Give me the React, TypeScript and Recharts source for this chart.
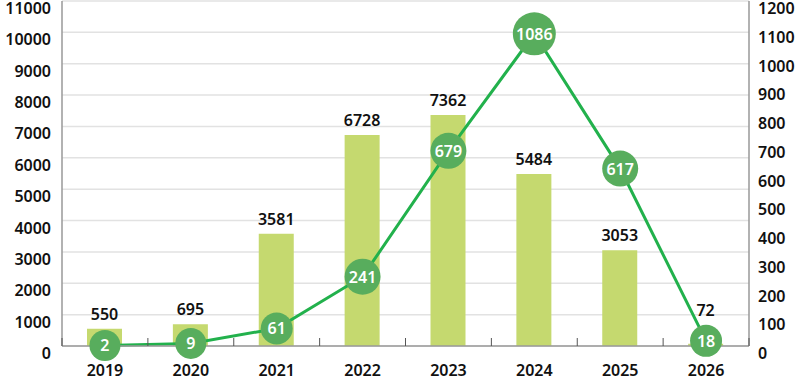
import React from "react";
import { ComposedChart, Bar, Line, XAxis, YAxis, CartesianGrid, LabelList } from "recharts";

const years = ["2019", "2020", "2021", "2022", "2023", "2024", "2025", "2026"];
const barValues = [550, 695, 3581, 6728, 7362, 5484, 3053, 72];
const lineValues = [2, 9, 61, 241, 679, 1086, 617, 18];
const leftTicks = [0, 1000, 2000, 3000, 4000, 5000, 6000, 7000, 8000, 9000, 10000, 11000];
const rightTicks = [0, 100, 200, 300, 400, 500, 600, 700, 800, 900, 1000, 1100, 1200];
const RIGHT_MAX = 1200;

const data = years.map((y, i) => ({ year: y, bar: barValues[i], line: lineValues[i] }));

const W = 800;
const H = 383;
const TOP = 1;
const X_H = 37;
const PLOT_H = H - TOP - X_H;
const LEFT_W = 62;
const RIGHT_W = 51;
const BW = (W - LEFT_W - RIGHT_W) / years.length;
const FONT = "'Noto Sans', sans-serif";

const radiusFor = (label: string) =>
  label.length === 1 ? 15.5 : label.length === 2 ? 16 : label.length === 3 ? 18 : 21.5;

const LeftTick = (props: any) => {
  const { x, y, payload } = props;
  return (
    <text x={x - 11} y={y + 7} textAnchor="end" dominantBaseline="central" fontFamily={FONT} fontSize={16} fontWeight={600} fill="#111">
      {payload.value}
    </text>
  );
};

const RightTick = (props: any) => {
  const { x, y, payload } = props;
  return (
    <text x={x + 9} y={y + 7} textAnchor="start" dominantBaseline="central" fontFamily={FONT} fontSize={16} fontWeight={600} fill="#111">
      {payload.value}
    </text>
  );
};

const XTick = (props: any) => {
  const { x, y, payload, index } = props;
  const last = index === years.length - 1;
  return (
    <g>
      <line x1={x - BW / 2} x2={x - BW / 2} y1={y - 8} y2={y} stroke="#555" strokeWidth={1} />
      {last && <line x1={x + BW / 2} x2={x + BW / 2} y1={y - 8} y2={y} stroke="#555" strokeWidth={1} />}
      <text x={x} y={y + 24} textAnchor="middle" dominantBaseline="central" fontFamily={FONT} fontSize={16} fontWeight={600} fill="#111">
        {payload.value}
      </text>
    </g>
  );
};

const BarLabel = (props: any) => {
  const { x, y, width, height, value, index } = props;
  const bottom = y + height;
  const lv = lineValues[index];
  const cy = bottom - (lv / RIGHT_MAX) * PLOT_H;
  const r = radiusFor(String(lv));
  let anchor = y;
  if (cy - r < y && y < cy + r) anchor = cy - r;
  return (
    <text x={x + width / 2} y={anchor - 9} textAnchor="middle" fontFamily={FONT} fontSize={16} fontWeight={600} fill="#111">
      {value}
    </text>
  );
};

const Dot = (props: any) => {
  const { cx, cy, payload } = props;
  const label = String(payload.line);
  const r = radiusFor(label);
  return (
    <g>
      <circle cx={cx} cy={cy} r={r} fill="#58ad5d" />
      <text x={cx} y={cy} textAnchor="middle" dominantBaseline="central" fontFamily={FONT} fontSize={16} fontWeight={600} fill="#fff">
        {label}
      </text>
    </g>
  );
};

export default function App() {
  return (
    <div style={{ position: "absolute", left: 0, top: 0, width: W, height: H, background: "#fff" }}>
      <ComposedChart width={W} height={H} data={data} margin={{ top: TOP, right: 0, bottom: 0, left: 0 }}>
        <CartesianGrid yAxisId="left" vertical={false} stroke="#e2e2e2" strokeWidth={1.5} />
        <XAxis
          dataKey="year"
          height={X_H}
          tickSize={0}
          tickMargin={0}
          tickLine={false}
          axisLine={{ stroke: "#999", strokeWidth: 1.5 }}
          tick={<XTick />}
          interval={0}
        />
        <YAxis
          yAxisId="left"
          orientation="left"
          width={LEFT_W}
          domain={[0, 11000]}
          ticks={leftTicks}
          tickSize={0}
          tickMargin={0}
          tickLine={false}
          axisLine={{ stroke: "#999", strokeWidth: 1.5 }}
          tick={<LeftTick />}
          interval={0}
        />
        <YAxis
          yAxisId="right"
          orientation="right"
          width={RIGHT_W}
          domain={[0, RIGHT_MAX]}
          ticks={rightTicks}
          tickSize={0}
          tickMargin={0}
          tickLine={false}
          axisLine={{ stroke: "#999", strokeWidth: 1.5 }}
          tick={<RightTick />}
          interval={0}
        />
        <Bar yAxisId="left" dataKey="bar" fill="#c5d96f" barSize={35} isAnimationActive={false}>
          <LabelList dataKey="bar" content={<BarLabel />} />
        </Bar>
        <Line
          yAxisId="right"
          dataKey="line"
          stroke="#22b14c"
          strokeWidth={3}
          dot={<Dot />}
          activeDot={false}
          isAnimationActive={false}
        />
      </ComposedChart>
    </div>
  );
}
